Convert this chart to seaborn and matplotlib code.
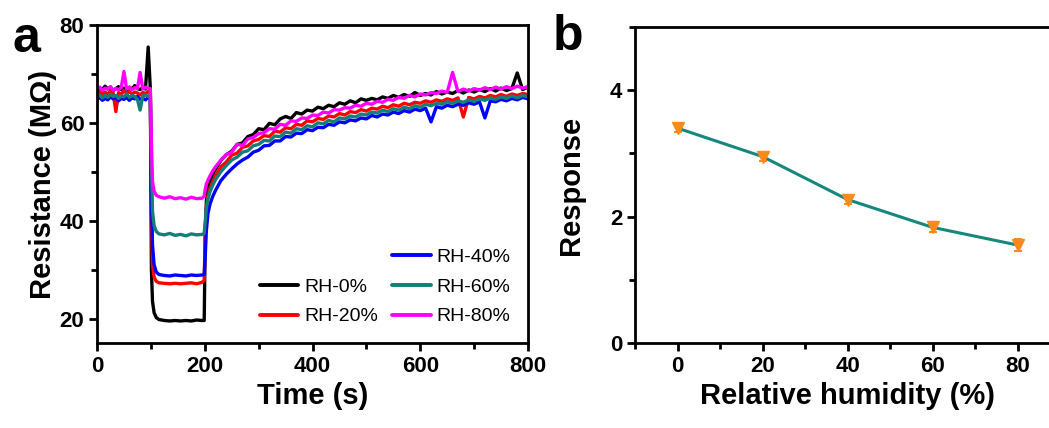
import numpy as np
import pandas as pd
import matplotlib
matplotlib.use("Agg")
import matplotlib.pyplot as plt
from matplotlib.lines import Line2D
from matplotlib.ticker import MultipleLocator
import seaborn as sns

# ---------------- data: panel a ----------------
time_s = ([0, 5, 10, 15, 20, 25, 30, 35, 40, 45, 50, 55, 60, 65, 70, 75, 80, 85, 90, 95, 99]
          + [101, 103, 106, 110, 115, 125, 135, 145, 155, 165, 175, 185, 195, 199]
          + [201, 203, 206, 210, 215] + list(range(220, 801, 10)))

rh0 = ([66.5, 67.2, 66.8, 67.5, 66.9, 67.3, 66.6, 67.0, 67.4, 66.8, 67.1, 66.7, 67.3, 66.9, 67.6, 67.0, 66.8, 67.2, 66.9, 75.5, 67.0]
       + [30.0, 23.5, 21.2, 20.2, 19.8, 19.6, 19.5, 19.6, 19.5, 19.6, 19.5, 19.7, 19.6, 19.6]
       + [38.0, 44.0, 46.5, 48.0, 49.5]
       + [50.5, 52.3, 53.5, 54.2, 55.6, 55.9, 57.2, 57.6, 58.8, 58.6, 59.9, 59.6, 60.8, 61.3, 60.9, 62.1, 61.8, 62.6, 62.4, 63.2,
          62.9, 63.6, 63.3, 64.1, 63.8, 64.5, 64.1, 64.9, 64.6, 65.0, 64.7, 65.3, 65.0, 65.6, 65.2, 65.8, 65.4, 66.2, 65.6, 66.0,
          65.7, 66.4, 65.9, 66.3, 66.0, 66.6, 66.1, 66.7, 66.3, 66.8, 66.4, 67.0, 66.5, 67.1, 66.6, 67.0, 70.2, 66.8, 67.3])

rh20 = ([66.0, 66.4, 65.8, 66.3, 65.9, 66.5, 66.1, 62.3, 66.2, 65.8, 66.6, 66.0, 66.4, 65.9, 66.3, 66.1, 65.7, 66.2, 66.0, 66.4, 66.1]
        + [40.0, 31.0, 28.5, 27.6, 27.3, 27.2, 27.1, 27.2, 27.1, 27.2, 27.3, 27.1, 27.4, 27.8]
        + [38.0, 42.5, 45.0, 46.6, 48.0]
        + [49.2, 51.0, 52.0, 53.4, 53.8, 55.0, 55.3, 56.3, 56.6, 57.4, 57.2, 58.3, 58.1, 59.0, 58.8, 59.7, 59.5, 60.4, 60.2, 60.9,
           60.7, 61.4, 61.2, 61.9, 61.6, 62.3, 62.1, 62.7, 62.4, 63.0, 62.8, 63.4, 63.1, 63.7, 63.4, 64.0, 63.7, 64.2, 64.0, 64.5,
           64.2, 64.7, 64.4, 64.9, 64.6, 65.1, 61.2, 65.2, 64.9, 65.4, 65.1, 65.6, 65.3, 65.8, 65.4, 65.9, 65.6, 66.0, 65.8])

rh40 = ([64.8, 65.2, 64.6, 65.0, 64.7, 65.3, 64.9, 65.1, 64.5, 65.0, 64.8, 65.2, 64.6, 65.1, 64.9, 65.4, 64.8, 65.0, 64.7, 65.2, 65.3]
        + [45.0, 35.0, 31.0, 29.5, 29.0, 28.8, 28.7, 28.9, 28.8, 28.7, 28.9, 28.8, 28.9, 29.0]
        + [33.0, 38.0, 41.5, 43.5, 45.0]
        + [46.2, 48.2, 49.5, 50.6, 51.6, 52.4, 53.0, 54.0, 54.4, 55.3, 55.4, 56.3, 56.3, 57.2, 57.1, 57.9, 57.8, 58.6, 58.4, 59.1,
           59.0, 59.7, 59.5, 60.2, 60.0, 60.6, 60.4, 61.0, 60.8, 61.5, 61.2, 61.8, 61.6, 62.2, 61.9, 62.5, 62.2, 62.8, 62.5, 63.0,
           60.2, 63.3, 63.0, 63.6, 63.3, 63.8, 63.6, 64.1, 63.8, 64.3, 61.0, 64.5, 64.3, 64.8, 64.5, 65.0, 64.7, 65.2, 64.9])

rh60 = ([65.3, 65.7, 65.1, 65.6, 65.2, 65.8, 65.4, 65.6, 65.0, 65.5, 65.3, 65.9, 65.2, 65.6, 65.4, 64.8, 62.6, 65.5, 65.7, 65.4, 65.6]
        + [52.0, 42.0, 39.0, 37.8, 37.3, 37.1, 37.4, 37.0, 37.2, 36.9, 37.3, 37.1, 37.2, 37.4]
        + [40.0, 42.5, 44.5, 46.0, 47.3]
        + [48.4, 50.0, 51.3, 52.4, 53.0, 54.0, 54.3, 55.3, 55.6, 56.4, 56.3, 57.3, 57.2, 58.1, 57.9, 58.8, 58.6, 59.4, 59.2, 60.0,
           59.8, 60.5, 60.2, 61.0, 60.8, 61.4, 61.2, 61.8, 61.6, 62.2, 62.0, 62.6, 62.3, 62.9, 62.6, 63.2, 62.9, 63.5, 63.2, 63.8,
           63.5, 64.0, 63.8, 64.3, 64.0, 64.5, 64.2, 64.7, 64.4, 64.9, 64.6, 65.1, 64.8, 65.3, 65.0, 65.5, 65.1, 65.6, 65.3])

rh80 = ([66.8, 67.3, 66.6, 67.1, 66.9, 67.4, 66.7, 67.0, 66.8, 67.2, 70.5, 66.9, 67.3, 66.8, 67.2, 67.0, 70.3, 66.9, 67.3, 67.1, 67.0]
        + [56.0, 48.0, 46.0, 45.2, 44.9, 44.6, 44.9, 44.5, 44.7, 44.4, 44.8, 44.5, 44.6, 45.0]
        + [46.5, 47.5, 48.3, 49.2, 50.2]
        + [51.0, 52.4, 53.5, 54.0, 55.6, 55.4, 56.7, 57.0, 57.8, 58.0, 58.8, 58.7, 59.7, 59.5, 60.4, 60.3, 61.0, 60.9, 61.6, 61.5,
           62.2, 62.0, 62.7, 62.6, 63.1, 63.0, 63.6, 63.4, 64.0, 63.8, 64.4, 64.2, 64.8, 64.6, 65.2, 65.0, 65.6, 65.3, 65.9, 65.7,
           66.2, 66.0, 66.5, 66.2, 70.3, 66.4, 66.9, 66.5, 67.0, 66.7, 67.2, 66.8, 67.3, 66.9, 67.4, 67.0, 67.5, 67.1, 67.4])

series_labels = ["RH-0%", "RH-20%", "RH-40%", "RH-60%", "RH-80%"]
series_values = [rh0, rh20, rh40, rh60, rh80]
series_colors = ["#000000", "#FF0000", "#0000FF", "#128077", "#FF00FF"]

# ---------------- data: panel b ----------------
humidity = [0, 20, 40, 60, 80]
response = [3.40, 2.95, 2.27, 1.83, 1.55]
response_err = [0.06, 0.07, 0.07, 0.08, 0.09]

# ---------------- style ----------------
sns.set_theme(style="ticks")
plt.rcParams['font.family'] = ['Liberation Sans', 'DejaVu Sans']
plt.rcParams['font.weight'] = 'bold'
plt.rcParams['axes.linewidth'] = 2.0
plt.rcParams['text.color'] = 'black'
plt.rcParams['axes.labelcolor'] = 'black'
plt.rcParams['xtick.color'] = 'black'
plt.rcParams['ytick.color'] = 'black'

frames = []
for lab, vals in zip(series_labels, series_values):
    frames.append(pd.DataFrame({"Time": time_s, "Resistance": vals, "series": lab}))
df = pd.concat(frames, ignore_index=True)

fig = plt.figure(figsize=(10.49, 4.28), dpi=100)
axa = fig.add_axes([97 / 1049, 1 - 343 / 428, 431 / 1049, 318 / 428])
axb = fig.add_axes([635 / 1049, 1 - 343 / 428, 425 / 1049, 316 / 428])

sns.lineplot(data=df, x="Time", y="Resistance", hue="series", hue_order=series_labels,
             palette=dict(zip(series_labels, series_colors)), estimator=None, sort=False,
             linewidth=2.4, ax=axa, legend=False)

axa.set_xlim(0, 800)
axa.set_ylim(15, 80)
axa.xaxis.set_major_locator(MultipleLocator(200))
axa.xaxis.set_minor_locator(MultipleLocator(100))
axa.yaxis.set_major_locator(MultipleLocator(20))
axa.yaxis.set_minor_locator(MultipleLocator(10))
axa.set_xlabel("Time (s)", fontsize=21, fontweight='bold', labelpad=4)
axa.set_ylabel("Resistance (M\u03a9)", fontsize=21, fontweight='bold', labelpad=2)

handles = [Line2D([], [], color='none', label=' ')]
for lab, col in zip(series_labels, series_colors):
    handles.append(Line2D([], [], color=col, linewidth=2.8, label=lab))
leg = axa.legend(handles=handles, ncol=2, frameon=False, loc='lower right',
                 bbox_to_anchor=(1.0, 0.0), fontsize=14, handlelength=2.0,
                 handletextpad=0.3, columnspacing=0.7, labelspacing=0.62)
for t in leg.get_texts():
    t.set_fontweight('normal')
    t.set_color('black')

# panel b
sns.lineplot(x=humidity, y=response, color="#17877E", linewidth=2.2, ax=axb)
axb.errorbar(humidity, response, yerr=response_err, fmt='v', color="#FF8A1C",
             markersize=8, elinewidth=1.5, capsize=3, capthick=1.5, zorder=5)
axb.set_xlim(-10, 90)
axb.set_ylim(0, 5)
axb.xaxis.set_major_locator(MultipleLocator(20))
axb.xaxis.set_minor_locator(MultipleLocator(10))
axb.yaxis.set_major_locator(MultipleLocator(2))
axb.yaxis.set_minor_locator(MultipleLocator(1))
axb.set_xlabel("Relative humidity (%)", fontsize=21, fontweight='bold', labelpad=4)
axb.set_ylabel("Response", fontsize=21, fontweight='bold', labelpad=18)

for ax in (axa, axb):
    for sp in ax.spines.values():
        sp.set_visible(True)
        sp.set_linewidth(2.0)
        sp.set_color('black')
    ax.tick_params(which='major', direction='out', length=6, width=2, labelsize=16,
                   top=False, right=False, pad=3, colors='black')
    ax.tick_params(which='minor', direction='out', length=4, width=2, top=False, right=False,
                   colors='black')
    for lab in ax.get_xticklabels() + ax.get_yticklabels():
        lab.set_fontweight('bold')
axb.spines['right'].set_visible(False)

fig.text(12 / 1049, 1 - 52 / 428, "a", fontsize=36, fontweight='bold', va='baseline')
fig.text(553 / 1049, 1 - 50 / 428, "b", fontsize=36, fontweight='bold', va='baseline')

fig.savefig("out.png", dpi=100, facecolor='white')
